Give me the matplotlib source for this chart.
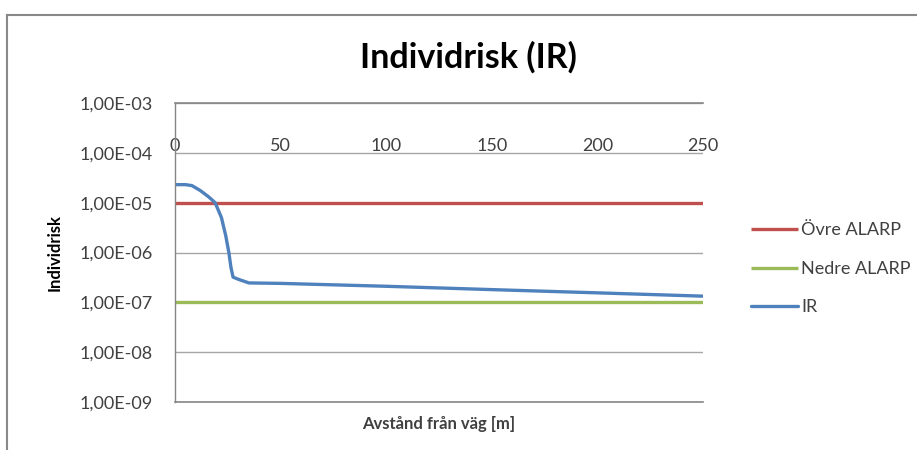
import matplotlib
matplotlib.use("Agg")
import matplotlib.pyplot as plt
from matplotlib.lines import Line2D
from matplotlib.ticker import FixedLocator, FuncFormatter

plt.rcParams['font.family'] = ['Lato', 'DejaVu Sans']

# Data
distance = [0, 5, 8, 12, 16, 19, 22, 24, 25.5, 26.5, 27.5, 30, 35, 50, 100, 150, 200, 250]
ir = [2.3e-5, 2.3e-5, 2.2e-5, 1.75e-5, 1.3e-5, 1.0e-5, 5.0e-6, 2.2e-6, 1.0e-6, 5.0e-7,
      3.2e-7, 2.9e-7, 2.45e-7, 2.4e-7, 2.1e-7, 1.8e-7, 1.55e-7, 1.33e-7]
ovre_x = [0, 250]
ovre_alarp = [1e-5, 1e-5]
nedre_x = [0, 250]
nedre_alarp = [1e-7, 1e-7]
x_ticks = [0, 50, 100, 150, 200, 250]
y_ticks = [1e-9, 1e-8, 1e-7, 1e-6, 1e-5, 1e-4, 1e-3]

fig = plt.figure(figsize=(9.17, 4.5), dpi=100)
ax = fig.add_axes([175/917, 48/450, 528/917, 299/450])

ax.plot(ovre_x, ovre_alarp, color='#C0504D', lw=2.4, label='Övre ALARP', solid_capstyle='butt')
ax.plot(nedre_x, nedre_alarp, color='#9BBB59', lw=2.4, label='Nedre ALARP', solid_capstyle='butt')
ax.plot(distance, ir, color='#4F81BD', lw=2.4, label='IR', solid_capstyle='round')

ax.set_yscale('log')
ax.set_ylim(1e-9, 1e-3)
ax.set_xlim(0, 250)
ax.yaxis.set_major_locator(FixedLocator(y_ticks))
ax.yaxis.set_minor_locator(FixedLocator([]))

def fmt(v, pos):
    s = "%.2E" % v
    mant, exp = s.split('E')
    return mant.replace('.', ',') + 'E' + exp
ax.yaxis.set_major_formatter(FuncFormatter(fmt))
ax.set_xticks(x_ticks)

ax.grid(axis='y', color='#A6A6A6', lw=1.0)
ax.set_axisbelow(True)
for s in ['top', 'bottom', 'left']:
    ax.spines[s].set_color('#868686')
    ax.spines[s].set_linewidth(1.2)
ax.spines['left'].set_linewidth(1.0)
ax.spines['right'].set_visible(False)

ax.tick_params(axis='y', length=0, pad=16, labelsize=13, labelcolor='#404040')
ax.tick_params(axis='x', top=True, bottom=False, labeltop=True, labelbottom=False,
               length=0, pad=-37, labelsize=13, labelcolor='#404040')

ax.set_ylabel('Individrisk', fontsize=12, fontweight='bold')
ax.yaxis.set_label_coords(-112/528, 0.5)
ax.set_xlabel('Avstånd från väg [m]', fontsize=12, fontweight='bold', color='#404040', labelpad=10)

fig.text(468/917, 1 - 57/450, 'Individrisk (IR)', fontsize=24.5, fontweight='bold',
         ha='center', va='center')

fig.legend(loc='upper left', bbox_to_anchor=(735/917, 1 - 206/450), frameon=False,
           fontsize=13, handlelength=2.6, handletextpad=0.15, labelspacing=1.25,
           labelcolor='#404040')

# outer chart frame (partially visible)
fig.add_artist(Line2D([7/917, 7/917], [0, 1 - 15/450], transform=fig.transFigure,
                      color='#888888', lw=1.5))
fig.add_artist(Line2D([7/917, 1], [1 - 15/450, 1 - 15/450], transform=fig.transFigure,
                      color='#888888', lw=1.5))

fig.savefig('out.png', dpi=100)
